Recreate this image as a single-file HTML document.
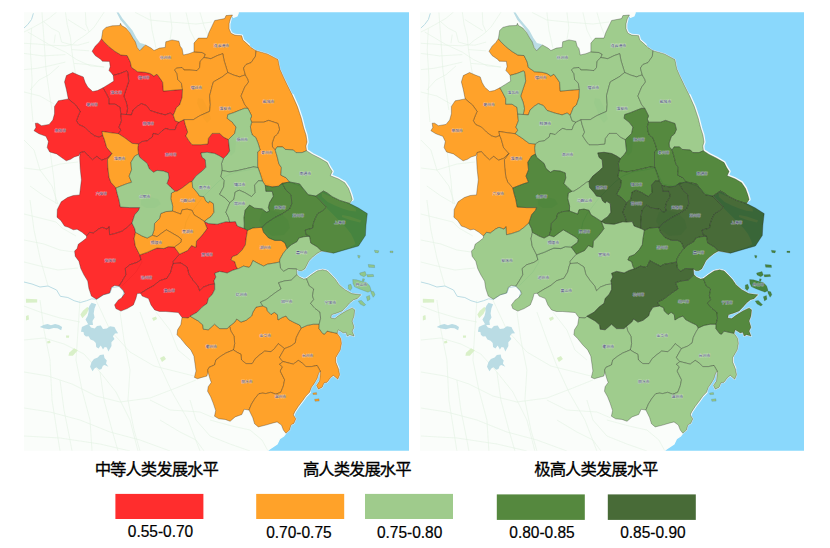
<!DOCTYPE html><html><head><meta charset="utf-8"><title>HDI map</title><style>html,body{margin:0;padding:0;background:#fff}body{width:830px;height:548px;position:relative;overflow:hidden;font-family:"Liberation Sans",sans-serif}</style></head><body><svg width="830" height="548" viewBox="0 0 830 548" style="position:absolute;left:0;top:0"><defs><path id="cXZ" d="M101.5,38.7 103.4,41.2 108.4,46.2 114.7,51.2 120.9,55 127.2,55.6 130.3,62 131.4,67.3 137.6,71.7 145.1,72.3 150.2,73.5 153.9,76.1 157,74.2 160.2,78.6 162.7,82.3 163.3,91.1 170.2,90.5 177.7,89.8 182.5,89.5 181.4,83.2 177.7,79.4 177.1,73.8 174.6,70 176.4,68.1 182.1,67.5 184,70 189.6,70 197.1,70.6 199.6,67.5 200.2,61.2 204,57.5 205.3,54.3 202.1,52.5 194,51.8 189,53.7 183.3,55 182.1,48.7 180.2,46.2 178.9,41.2 172,39.9 165.8,41.8 165.2,47.4 159.5,48.1 154,50.5 151,48 145.4,44.9 139.7,50.8 137.2,47.4 135.3,41.8 132.8,38.1 129.7,32.4 125.9,28 121.5,25.5 120.5,23.3 119.7,25.5 112.2,25.8 105.9,27.4 102.8,30.5Z"/><path id="cLYG" d="M194,51.8 202.1,52.5 205.3,54.3 204,57.5 210.9,58.7 217.2,55.6 222.8,53.7 224.1,60.6 227.2,70.6 227.8,72.5 233.5,75 239.7,76.9 242.9,75.6 245.4,75 243.5,68 246,64.5 251.1,62.6 255.4,56.4 256.1,50.7 251.1,47.6 248.6,45.1 242.9,40.1 241.7,35.7 234.8,35.1 231,33.2 229.1,28.8 229.1,23.8 230.4,18.8 232.5,15 226,15.6 224.7,18.6 214.7,20.5 209,32.4 207.1,38.1 198.4,38.1 194,43.1Z"/><path id="cSQ" d="M204,57.5 200.2,61.2 199.6,67.5 197.1,70.6 189.6,70 184,70 182.1,67.5 176.4,68.1 174.6,70 177.1,73.8 177.7,79.4 181.4,83.2 182.5,89.5 182.1,97.4 179.6,104.9 176.5,107.4 174.5,112.5 173.3,115.2 175.2,120.8 178.9,122.1 184,119.6 193.4,119.6 199.6,115.8 209.6,111.4 210.3,104.6 209.6,95.8 212.2,85.8 213.4,81.9 222.2,76.9 227.8,72.5 227.2,70.6 224.1,60.6 222.8,53.7 217.2,55.6 210.9,58.7Z"/><path id="cHA" d="M245.4,75 242.9,75.6 239.7,76.9 233.5,75 227.8,72.5 222.2,76.9 213.4,81.9 212.2,85.8 209.6,95.8 210.3,104.6 209.6,111.4 199.6,115.8 193.4,119.6 184,119.6 185.2,124.6 187.7,132.1 185.8,135.9 189,140.9 192.1,144.7 200.9,144.7 207.8,144 208.4,138.4 212.2,133.4 219.7,133.4 223.4,137.1 228.4,139.6 234.7,133.4 236,127.1 232.2,122.1 227.2,118.3 227.8,114.6 233.5,112.7 239.7,110.2 244.7,108.3 247.9,108.4 244.8,104.7 241,96 244.8,87 248.6,82 247.9,79.4Z"/><path id="cYC" d="M256.1,50.7 255.4,56.4 251.1,62.6 246,64.5 243.5,68 245.4,75 247.9,79.4 248.6,82 244.8,87 241,96 244.8,104.7 247.9,108.4 251.7,116 250.4,119 251.7,122.2 263.6,122.2 268.6,120.4 278,123.5 279.5,129.5 277.5,134 274.4,136.5 272.2,143 272.5,147 275.2,150 277.1,146.9 282.7,146.9 285.2,149.4 293.4,150 295.9,152.6 302.1,152.6 306.5,150.7 305.9,146 307.1,142 306,135 303.7,127.9 301.2,117.9 297.4,106.6 292.4,95.3 287.4,85.3 282.8,75.5 279.9,68.9 278,59.5 267.4,53.9Z"/><path id="cYZ" d="M247.9,108.4 244.7,108.3 239.7,110.2 233.5,112.7 227.8,114.6 227.2,118.3 232.2,122.1 236,127.1 234.7,133.4 228.4,139.6 229.1,146 229.7,151 227.2,154.8 223.4,158.5 221.5,163.5 222.1,170.5 229.5,171.9 237.1,170.7 245.2,168.8 253.4,166.9 258,167.5 257.6,166.3 257.6,158.8 257.6,151.9 260.1,150 258.3,143.8 255.8,137.5 252.3,135 251,131 250.4,126.6 251.7,122.2 250.4,119 251.7,116Z"/><path id="cTZ" d="M275.2,150 272.5,147 272.2,143 274.4,136.5 277.5,134 279.5,129.5 278,123.5 268.6,120.4 263.6,122.2 251.7,122.2 250.4,126.6 251,131 252.3,135 255.8,137.5 258.3,143.8 260.1,150 257.6,151.9 257.6,158.8 257.6,166.3 258,167.5 260.2,173.8 262.5,181 265.3,185.5 272.2,186.9 278.4,186.3 282.2,183.3 289.7,182 285.8,177.6 280.8,175.1 281.4,167.6 278.9,163.8 277.1,156.3Z"/><path id="cNT" d="M306.5,150.7 302.1,152.6 295.9,152.6 293.4,150 285.2,149.4 282.7,146.9 277.1,146.9 275.2,150 277.1,156.3 278.9,163.8 281.4,167.6 280.8,175.1 285.8,177.6 289.7,182 299.6,183.9 303.4,188.9 308.3,194.8 315.9,196.1 323.4,191 327.1,192.9 332.2,196.7 339.7,200.4 349.7,203.5 352.2,199.5 350.9,194.8 348.6,188.5 344.7,182.7 338.5,179 330.3,175.7 332.2,171.4 329.7,167.6 327.2,162.6 319.7,158.2 312.2,154.4Z"/><path id="cNJ" d="M222.1,170.5 221.5,163.5 223.4,158.5 219.7,156 214.7,153.5 207.1,152.3 200.9,152.9 202.1,157.3 205.3,159.8 205.9,167.3 202.1,171.1 195.9,176.1 192.1,181.3 192.7,187.4 197.1,192.4 199.6,196.1 204,196.7 205.9,201.1 208.4,203 209.6,201.1 213.4,203.6 214,212.3 210.9,216.7 207.1,219.2 204.3,221.4 208.4,223.5 217.2,224.2 225.9,221.7 229.7,222 228.4,217.3 225.9,212.3 227.8,207.5 229.8,202.8 224.6,197.5 219.6,194.3 223.6,187 224.3,180.5 220.9,176.8Z"/><path id="cZJ" d="M258,167.5 253.4,166.9 245.2,168.8 237.1,170.7 229.5,171.9 222.1,170.5 220.9,176.8 224.3,180.5 223.6,187 219.6,194.3 224.6,197.5 229.8,202.8 233.9,199.2 235.2,192 239.2,190.2 244.6,192.5 251.5,196.6 255.2,192.6 254.6,185.1 258.4,180.7 262.5,181 260.2,173.8Z"/><path id="cCZ" d="M265.3,185.5 262.5,181 258.4,180.7 254.6,185.1 255.2,192.6 251.5,196.6 244.6,192.5 239.2,190.2 235.2,192 233.9,199.2 229.8,202.8 227.8,207.5 225.9,212.3 228.4,217.3 229.7,222 235.4,221.6 237.3,226 244.2,228.5 244.3,224 244,217.6 245.2,210.1 249.6,205.1 254.6,208.2 262.1,208.9 266.5,212.3 269.5,211 268.4,207.6 269.6,202.6 273.4,196.3 272.2,191.3 265.9,191.3Z"/><path id="cWX" d="M282.2,183.3 278.4,186.3 272.2,186.9 265.3,185.5 265.9,191.3 272.2,191.3 273.4,196.3 269.6,202.6 268.4,207.6 269.5,211 266.5,212.3 262.1,208.9 254.6,208.2 249.6,205.1 245.2,210.1 244,217.6 244.3,224 244.2,228.5 247.5,230.3 252.9,227.9 262,227.3 267.1,222.7 274.7,217.6 282.2,213.9 289.7,209 291.8,203.8 291.2,195 285.9,190Z"/><path id="cSZ" d="M289.7,182 282.2,183.3 285.9,190 291.2,195 291.8,203.8 289.7,209 282.2,213.9 274.7,217.6 267.1,222.7 262,227.3 263.6,232.3 268.6,237.9 274.9,240.4 281.1,240.4 284.9,242.9 287,248.5 291.2,244.8 297,241.5 298.8,238 303.7,236.7 309.6,236.2 306,234.5 305.2,230 312.6,228.2 313.5,223 315.2,218.6 317.7,213.6 322.1,211.1 326.5,207.3 320.9,201.1 315.9,196.1 308.3,194.8 303.4,188.9 299.6,183.9Z"/><path id="cSH" d="M349.7,203.5 339.7,200.4 332.2,196.7 327.1,192.9 323.4,191 315.9,196.1 320.9,201.1 326.5,207.3 322.1,211.1 317.7,213.6 315.2,218.6 313.5,223 312.6,228.2 305.2,230 306,234.5 309.6,236.2 310.8,243 317.1,246.7 321.6,251 333.6,253.2 347.2,249.2 358.5,246 365.4,235.5 366,224.9 367.3,213.6 358.5,208Z"/><path id="cHUZ" d="M287,248.5 284.9,242.9 281.1,240.4 274.9,240.4 268.6,237.9 263.6,232.3 262,227.3 252.9,227.9 247.5,230.3 246.1,238.6 245.4,244.8 242.3,249.8 237.3,254.8 232.3,256.7 231,259.9 234.8,261.7 236,266.1 237.5,268.8 238.5,268.6 243.5,266.1 249.2,267.4 251.1,264.9 252.9,260.5 257.3,263 263.6,266.1 267.4,264.2 274.9,263 279.6,262 279.9,259.2 283,253.6Z"/><path id="cJX" d="M321.6,251 317.1,246.7 310.8,243 309.6,236.2 303.7,236.7 298.8,238 297,241.5 291.2,244.8 287,248.5 283,253.6 279.9,259.2 279.6,262 280.5,268.3 283.6,271.3 288.7,268.5 296.5,269 299,270.7 301.7,270.7 304.8,268.9 307.2,264.4 309,260.7 312.7,257.1 317.2,253.4Z"/><path id="cHZ" d="M279.6,262 274.9,263 267.4,264.2 263.6,266.1 257.3,263 252.9,260.5 251.1,264.9 249.2,267.4 243.5,266.1 238.5,268.6 237.5,268.8 232.2,270.5 227.2,273 219.7,271.4 214.7,273.3 215.9,277 214,280.8 214.7,284 214.7,289.6 212.2,294.6 208.4,298.3 207.1,303.4 202.1,307.1 197.1,312.3 190,316.2 198.3,321 202.7,324.8 203.3,329.2 208.3,329.8 214.6,324.2 219.6,328.6 227.1,328.6 229.6,326.2 234.8,322.1 236.7,319 241,322.1 246.1,320.3 251.7,315.9 252.9,312.1 256.1,307.1 262.7,305.9 260.5,302.1 266.1,299.6 271.1,295.8 276.1,292.1 281.1,288.9 278.6,282.7 284.9,280.8 291.2,280.2 297,274.6 296.5,269 288.7,268.5 283.6,271.3 280.5,268.3Z"/><path id="cSX" d="M297,274.6 291.2,280.2 284.9,280.8 278.6,282.7 281.1,288.9 276.1,292.1 271.1,295.8 266.1,299.6 260.5,302.1 262.7,305.9 266.7,307.7 267.4,310.9 271.1,314.6 274.2,312.3 277.4,314.6 278,320 282,317.5 286,316 288.7,319.6 293.7,322.3 299.6,325 301.4,328 307.1,325.4 313.4,324.2 319.2,324.2 320.6,318.4 320,312.1 315,308.4 310.6,303.4 313.7,299.6 312.5,295.8 313.7,288.9 309.3,285.8 306.5,278.6 303.6,279 299.9,277.3Z"/><path id="cNB" d="M306.5,278.6 309.3,285.8 313.7,288.9 312.5,295.8 313.7,299.6 310.6,303.4 315,308.4 320,312.1 320.6,318.4 319.2,324.2 319,328.6 322.8,333.6 324.6,334.2 327.1,331.1 332.2,332.3 337.2,333.3 338.4,329.8 343.4,333 345.9,332.3 347.2,336.1 349.7,334.8 354.1,336.1 352.2,331.1 354.1,327.3 352.2,321.1 354.1,316.1 354.7,309.8 352.2,307.9 345.9,311 339.7,314.8 334.7,318.6 330.9,317.9 331.5,314.8 337.2,312.9 342.2,311 345.9,307.3 349.7,302.9 353.5,299.8 357.2,298.7 361,294.7 351.9,293.6 344.6,289.4 339.1,284.8 335.5,279.4 330.9,274.6 327.3,270.9 322.7,269.7 317.2,270.9 311.8,274.6Z"/><path id="cJH" d="M301.4,328 299.6,325 293.7,322.3 288.7,319.6 286,316 282,317.5 278,320 277.4,314.6 274.2,312.3 271.1,314.6 267.4,310.9 266.7,307.7 262.7,305.9 256.1,307.1 252.9,312.1 251.7,315.9 246.1,320.3 241,322.1 236.7,319 234.8,322.1 229.6,326.2 230.9,331.1 234,336.1 234.7,343.6 233.4,349.9 237.2,352.4 240.9,354.2 241.5,359.9 245.9,363.6 252.2,363.6 255.3,358.6 259.7,354.9 264.7,351.1 271,351.7 274.5,348.6 278.3,343.6 284.5,348.6 290.8,346.1 295.2,343 296.4,337.4 298.9,332.3Z"/><path id="cQZ" d="M229.6,326.2 227.1,328.6 219.6,328.6 214.6,324.2 208.3,329.8 203.3,329.2 202.7,324.8 198.3,321 190,316.2 188.3,318 182,317.5 180.8,324.8 177.6,329.8 177,334.8 180.8,338.6 185.8,344.8 190.8,349.9 193.9,356.1 195.2,364.9 196,371 194.4,377.4 197.5,378.7 201.9,377.4 206.9,376.1 208,372 207.7,370 209,367.4 214.6,364.9 215.9,359.9 220.9,356.1 225.9,353 233.4,349.9 234.7,343.6 234,336.1 230.9,331.1Z"/><path id="cLS" d="M233.4,349.9 225.9,353 220.9,356.1 215.9,359.9 214.6,364.9 209,367.4 207.7,370 208,372 210.1,379.3 211.3,382.4 208.2,386.8 207.6,391.2 210.7,396.8 213.2,403.1 215.7,410.6 214.5,416.2 218.8,418.8 225.1,419.4 230.1,421.3 235.1,416.9 241.8,414.5 244.2,409.3 249,410 251.5,404 255.2,398.1 258.9,393.7 262.7,393.1 265.8,393.6 270.8,392.3 275.8,394.2 280.8,392.3 283.3,386.1 284.6,379.8 282.1,374.8 280.2,371 282.5,366.8 279.5,364.3 283,361.5 281.5,360 279.5,357.4 284.5,348.6 278.3,343.6 274.5,348.6 271,351.7 264.7,351.1 259.7,354.9 255.3,358.6 252.2,363.6 245.9,363.6 241.5,359.9 240.9,354.2 237.2,352.4Z"/><path id="cTZZ" d="M337.2,333.3 332.2,332.3 327.1,331.1 324.6,334.2 322.8,333.6 319,328.6 319.2,324.2 313.4,324.2 307.1,325.4 301.4,328 298.9,332.3 296.4,337.4 295.2,343 290.8,346.1 284.5,348.6 279.5,357.4 281.5,360 283,361.5 288.3,362.9 293.3,364.1 298.3,360.4 302.1,362.9 305.9,366.6 311.5,366.6 317.1,365.4 320.5,371.5 319.6,381.1 316.5,385.4 318.4,389.2 322.2,387.3 324,382.9 327.2,382.3 330.3,377.9 333.4,375.4 337.8,379.2 339.7,374.8 338.4,368.5 335.9,362.3 335.9,357.4 340.3,350 341.5,343.6 340.9,338.6Z"/><path id="cWZ" d="M283,361.5 279.5,364.3 282.5,366.8 280.2,371 282.1,374.8 284.6,379.8 283.3,386.1 280.8,392.3 275.8,394.2 270.8,392.3 265.8,393.6 262.7,393.1 258.9,393.7 255.2,398.1 251.5,404 249,410 252.7,417.5 254.6,423.8 258.3,426.9 265.8,425.1 272.1,423.2 277.1,421.9 281.5,425.1 283.4,430.1 285.9,433.2 289.6,430.1 290.9,425.1 294,423.2 295.9,418.8 293.4,415 294.7,411.9 298.4,406.3 302.8,400.5 305.9,396.1 309.6,392.3 311.5,387.3 314.6,382.9 317.1,378.6 319,372.5 320.5,371.5 317.1,365.4 311.5,366.6 305.9,366.6 302.1,362.9 298.3,360.4 293.3,364.1 288.3,362.9Z"/><path id="cSUZ" d="M182.5,89.5 177.7,89.8 170.2,90.5 163.3,91.1 162.7,82.3 160.2,78.6 157,74.2 153.9,76.1 150.2,73.5 145.1,72.3 137.6,71.7 131.4,67.3 130.3,62 127.2,55.6 120.9,55 114.7,51.2 108.4,46.2 103.4,41.2 101.5,38.7 99,42.4 95.2,46.2 92.1,51.2 95.2,55.6 100.9,59.4 102.3,61.2 109.5,61.4 110.2,66.5 109,70.6 111.4,73 113.2,75.4 120.1,73.5 126.3,71 127.6,71.7 128.8,81.1 126.3,88.6 123.8,96.1 126.3,102.4 127.6,108.6 126.3,114.5 131.4,114.9 133.2,109.9 137.6,106.1 141.4,103.6 146.4,105.5 150.2,110.5 157.7,113 165.2,114.9 170.2,113 173.3,115.2 174.5,112.5 176.5,107.4 179.6,104.9 182.1,97.4Z"/><path id="cHB" d="M103,87.8 106.3,93.6 108.8,98.6 108.8,104.2 115.1,104.2 120.1,107.4 120.8,114.2 126.3,114.5 127.6,108.6 126.3,102.4 123.8,96.1 126.3,88.6 128.8,81.1 127.6,71.7 126.3,71 120.1,73.5 113.2,75.4 113.8,81.1 108.8,84.2Z"/><path id="cBZ" d="M102.8,135.5 102,131.4 110.9,132.8 118.4,133.7 120.9,130.2 119,127.1 121.5,120.8 120.8,114.2 120.1,107.4 115.1,104.2 108.8,104.2 108.8,98.6 106.3,93.6 103,87.8 97.5,90.5 92.7,91.5 87.7,87 85.2,82.5 83.3,76.9 78.3,75 72.7,72.5 66.4,75.6 64.5,81.9 66.4,89.5 68.3,98.9 75.8,105.2 80.2,111.4 78.3,115.8 76.4,120.8 78.9,124.6 84.6,127.1 89.6,132.1 94.6,135.9 99,137.1Z"/><path id="cFY" d="M112,153.5 106.7,147.6 104.2,138.8 102.8,135.5 99,137.1 94.6,135.9 89.6,132.1 84.6,127.1 78.9,124.6 76.4,120.8 78.3,115.8 80.2,111.4 75.8,105.2 68.3,98.9 58.3,100.8 54.5,106.4 54.5,113.8 52.8,120 49.1,124.4 41.5,125.7 37.8,123.2 35.3,123.2 35.9,127.6 34,130.7 39,133.8 45.9,136.3 48.4,141.4 47.2,147.6 49.7,152 56.6,153.9 61.6,157.6 66.2,160.8 70.6,159.3 74.1,157 79,155.5 80.3,152.5 84.6,151.6 88.3,156 92.7,159.8 96.7,156.4 101.7,160.2 106.7,158.3Z"/><path id="cBB" d="M178.9,122.1 175.2,120.8 173.3,115.2 170.2,113 165.2,114.9 157.7,113 150.2,110.5 146.4,105.5 141.4,103.6 137.6,106.1 133.2,109.9 131.4,114.9 126.3,114.5 120.8,114.2 121.5,120.8 119,127.1 120.9,130.2 118.4,133.7 124.7,137.8 132.2,143.4 138.5,144 142.2,141.5 147.2,140.9 152.3,137 153.3,133.4 158.3,134.6 162,130.9 165.8,128.4 169.5,129.6 175.2,129.6 176.4,125.9Z"/><path id="cHN" d="M138.5,154.1 137.8,148 138.5,144 132.2,143.4 124.7,137.8 118.4,133.7 110.9,132.8 102,131.4 102.8,135.5 104.2,138.8 106.7,147.6 112,153.5 107.5,159.5 107.8,167.3 109,177.3 110.9,182.3 115.9,188 122.2,185.5 127.2,183.6 131.6,182.3 129.1,176.1 131.6,169.8 130.9,162.3 134.7,156Z"/><path id="cCHZ" d="M184,119.6 178.9,122.1 176.4,125.9 175.2,129.6 169.5,129.6 165.8,128.4 162,130.9 158.3,134.6 153.3,133.4 152.3,137 147.2,140.9 142.2,141.5 138.5,144 137.8,148 138.5,154.1 139.7,157.3 147.2,163.5 149.1,168.6 153.5,172.3 157,170.4 163.3,171.1 168.3,172.9 168.9,178 167,183.6 170.8,187.4 175,191.3 177,191.2 182.1,188 189.6,182.3 192.1,181.3 195.9,176.1 202.1,171.1 205.9,167.3 205.3,159.8 202.1,157.3 200.9,152.9 207.1,152.3 214.7,153.5 219.7,156 223.4,158.5 227.2,154.8 229.7,151 229.1,146 228.4,139.6 223.4,137.1 219.7,133.4 212.2,133.4 208.4,138.4 207.8,144 200.9,144.7 192.1,144.7 189,140.9 185.8,135.9 187.7,132.1 185.2,124.6Z"/><path id="cLA" d="M115.9,188 110.9,182.3 109,177.3 107.8,167.3 107.5,159.5 112,153.5 106.7,158.3 101.7,160.2 96.7,156.4 92.7,159.8 88.3,156 84.6,151.6 80.3,152.5 79.6,157.3 80.2,168.6 81.4,179.8 80.2,189.9 79.6,194.9 73.3,195.5 67.5,197.5 61.2,201.8 57.3,209.5 57,217.3 60.8,220.4 64.5,226.1 68.3,227.3 73.3,229.8 77.1,229.2 82.1,232.3 86.5,236 89.6,232.3 93.4,233 98.4,229.2 102.1,227.3 107.1,229.2 109,226.7 109.6,234.8 114.7,233.6 122.2,231.1 127.2,227.3 132,223 134.7,214.8 138.5,210.4 139.7,207.6 129.7,207.6 120.3,207 119,199.9 117.2,193.6Z"/><path id="cHF" d="M135.5,232.3 142.2,236.1 147.2,238 152.3,235.3 154.1,229.8 154.5,223.5 159.5,218.5 160.8,213.5 165.8,211.6 172.5,211 172.7,206.1 170.8,198.6 171.4,193 175,191.3 170.8,187.4 167,183.6 168.9,178 168.3,172.9 163.3,171.1 157,170.4 153.5,172.3 149.1,168.6 147.2,163.5 139.7,157.3 138.5,154.1 134.7,156 130.9,162.3 131.6,169.8 129.1,176.1 131.6,182.3 127.2,183.6 122.2,185.5 115.9,188 117.2,193.6 119,199.9 120.3,207 129.7,207.6 139.7,207.6 138.5,210.4 134.7,214.8 132,223 134.7,228.6Z"/><path id="cMAS" d="M204.3,221.4 207.1,219.2 210.9,216.7 214,212.3 213.4,203.6 209.6,201.1 208.4,203 205.9,201.1 204,196.7 199.6,196.1 197.1,192.4 192.7,187.4 192.1,181.3 189.6,182.3 182.1,188 177,191.2 175,191.3 171.4,193 170.8,198.6 172.7,206.1 172.5,211 180.8,214.1 182.1,209.8 187.1,209.1 192.1,210.4 194,214.8 199,217.9Z"/><path id="cWH" d="M179.6,254.2 182.1,253 187.7,250.5 191.5,245.5 195.9,247.4 196.5,241.1 200.2,237.3 203.4,233.6 207.1,228.6 204.3,221.4 199,217.9 194,214.8 192.1,210.4 187.1,209.1 182.1,209.8 180.8,214.1 172.5,211 165.8,211.6 160.8,213.5 159.5,218.5 154.5,223.5 154.1,229.8 152.3,235.3 157,236.7 162,232.9 166.4,229.8 170.8,232.3 178.3,236.7 181.4,239.2 180.8,242.3 174.3,247 176.5,250Z"/><path id="cTL" d="M139.7,254.9 147.2,252.4 152,250.2 157,248 163.9,248.6 168.3,246.7 174.3,247 180.8,242.3 181.4,239.2 178.3,236.7 170.8,232.3 166.4,229.8 162,232.9 157,236.7 152.3,235.3 147.2,238 142.2,236.1 135.5,232.3 134.1,238.6 135.3,246.1Z"/><path id="cAQ" d="M139.7,254.9 135.3,246.1 134.1,238.6 135.5,232.3 134.7,228.6 132,223 127.2,227.3 122.2,231.1 114.7,233.6 109.6,234.8 109,226.7 107.1,229.2 102.1,227.3 98.4,229.2 93.4,233 89.6,232.3 86.5,236 86.5,238 82.7,241.1 78.3,244.2 77.1,248.6 74.6,251.1 75.2,256.2 78.9,261.2 80.8,268.5 83.9,274.8 87.7,281.1 88.9,288.6 91.4,296.1 96.5,299.2 103.4,294.8 109.6,293 111.5,287.3 114.6,285.4 119,286.1 122.2,281.1 125.9,274.8 125.3,268.5 129.7,264.8 137.2,262.3 141,259.8Z"/><path id="cCI" d="M173.3,263.5 173.3,261.1 176.5,257.5 179.6,254.2 176.5,250 174.3,247 168.3,246.7 163.9,248.6 157,248 152,250.2 147.2,252.4 139.7,254.9 141,259.8 137.2,262.3 129.7,264.8 125.3,268.5 125.9,274.8 122.2,281.1 119,286.1 123.4,290.5 124.7,293.6 121.5,298 118.4,299.9 114.6,304.9 115.9,308.6 120.9,311.1 127.2,308.6 133.4,304.9 135.9,298.6 137.2,293.6 140.5,293.3 147.2,289.2 154.1,285.4 159.5,280.8 167,278.3 170.8,272 172,267Z"/><path id="cXC" d="M247.5,230.3 244.2,228.5 237.3,226 235.4,221.6 229.7,222 225.9,221.7 217.2,224.2 208.4,223.5 204.3,221.4 207.1,228.6 203.4,233.6 200.2,237.3 196.5,241.1 195.9,247.4 191.5,245.5 187.7,250.5 182.1,253 179.6,254.2 176.5,257.5 173.3,261.1 173.3,263.5 180.8,263 187.1,267 189,274.5 193.4,280.8 197.7,285.8 199.6,290.8 203.4,287.1 209.6,284.6 214.7,284 214,280.8 215.9,277 214.7,273.3 219.7,271.4 227.2,273 232.2,270.5 237.5,268.8 236,266.1 234.8,261.7 231,259.9 232.3,256.7 237.3,254.8 242.3,249.8 245.4,244.8 246.1,238.6Z"/><path id="cHS" d="M182,317.5 188.3,318 190,316.2 197.1,312.3 202.1,307.1 207.1,303.4 208.4,298.3 212.2,294.6 214.7,289.6 214.7,284 209.6,284.6 203.4,287.1 199.6,290.8 197.7,285.8 193.4,280.8 189,274.5 187.1,267 180.8,263 173.3,263.5 172,267 170.8,272 167,278.3 159.5,280.8 154.1,285.4 147.2,289.2 140.5,293.3 142.2,296.1 148.5,298.6 151,304.9 154.7,309.9 159.5,311.5 165.8,311.5 172,312.1 178.3,312.5Z"/><path id="i0" d="M352.7,279.5 356.5,279.8 360.8,281 366.5,282.6 369.8,286 371.2,290.5 368,292.2 363.5,290.5 359,288.8 354.6,286.8 353,283.5Z"/><path id="i1" d="M348.4,284.9 350.9,284.3 352.1,288 350.3,290.5 348.4,288.6Z"/><path id="i2" d="M359.6,273.1 365.1,271.5 366.4,275 363.9,276.8 360.2,275Z"/><path id="i3" d="M362.7,278.7 364.5,278.9 363.9,281.2 362.4,280.9Z"/><path id="i4" d="M368.2,264.5 374.4,265.1 374.7,267.6 368.8,267.3Z"/><path id="i5" d="M367,274.7 373.2,274.4 373.8,276.5 367.6,276.9Z"/><path id="i6" d="M357.7,255.2 360.2,255.8 359.3,258.3 358.1,257.6Z"/><path id="i7" d="M374.4,250.2 378.8,250.8 378.1,252.9 375,252.4Z"/><path id="i8" d="M390,251 393,251 393,252.7 390,252.5Z"/><path id="i9" d="M370.7,291.1 373.8,291.7 375,294.8 373.2,297.3 371.3,293.6Z"/><path id="i10" d="M366.4,296.7 369.5,295.4 370.1,299.2 367.6,301Z"/><path id="i11" d="M358.3,301 361.4,300.4 365.7,304.7 363.9,306 360.2,304.1Z"/><path id="i12" d="M312.8,393 316.5,392.6 316.8,394.4 313,394.6Z"/><path id="i13" d="M314.6,399.2 319,398.8 319.2,401.1 315,401.3Z"/><g id="base"><rect x="20" y="10" width="394" height="444" fill="#fafdfa"/><g fill="none" stroke="#e3f1e2" stroke-width="0.6" stroke-linejoin="round"><path d="M24,32 31.5,28.3 42.8,22 49.1,18.3 56.6,12"/><path d="M24,43.3 36.5,44 49.1,45.2 65.4,45.8 71.6,44.8 77.9,45.2 89.2,42.1"/><path d="M27.8,32 36.5,37.1 49.1,44.6 65.4,52.1 76.6,59.6 90.4,65.9 104.2,67.1"/><path d="M65.4,12 67.2,24.5 70.4,37.1 71.6,49.6 73.5,62.1 76.6,80"/><path d="M31.5,28.3 30.3,49.6 31.5,68.4 32.1,80 31,100 33,122"/><path d="M24,53.4 42.8,55.9 65.4,54.6"/><path d="M44,22 51.6,28.3 59.1,32 61.6,42.1 71.6,44.8"/><path d="M85.4,12 86,24.5 89.2,32 84.2,35.8 76.6,40.8 72.2,44.8"/><path d="M104.2,12 94.2,27 89.2,32"/><path d="M67.9,19.5 77.9,25.8 86,30.8"/><path d="M55.3,34.6 54.1,43.3"/><path d="M24,69.6 36.5,68.4 49.1,65.9 65.4,62.1"/><path d="M59.1,65.9 49.1,74.7 39,80 30,90"/><path d="M71.6,49.6 89.2,50.8"/><path d="M74.1,63.4 89.2,64.6 104.2,67.1"/><path d="M42,12.3 44,40 46,70 50,98 52,110"/><path d="M24,92 40,96 54,104"/><path d="M150,12.3 152,30 156,48"/><path d="M170,12.3 172,28 170,40"/><path d="M186,12.3 190,30 196,42"/><path d="M135,12.3 150,20 170,22 196,24 212,22"/><path d="M200,12.3 204,26 208,36"/><path d="M24,140 34,150 40,170 52,186 58,204"/><path d="M24,168 40,170 60,164 78,162"/><path d="M30,186 44,196 58,204"/><path d="M24,214 40,218 56,222 62,228 76,236"/><path d="M24,240 44,244 60,250 74,252"/><path d="M30,200 34,230 40,258 48,286"/><path d="M24,262 40,266 58,270 78,268"/><path d="M50,150 54,180 56,204"/><path d="M24,306 40,312 60,318 80,322"/><path d="M24,340 44,338 64,344 84,354 100,372 116,392 130,420 138,451"/><path d="M40,300 44,330 50,360 52,400 60,451"/><path d="M24,372 48,376 72,384 96,396 120,402 150,398 176,388 196,380"/><path d="M24,408 50,412 80,420 110,432 140,440 170,451"/><path d="M80,300 78,330 76,360 82,390 90,420 92,451"/><path d="M120,312 124,340 130,370 128,400 134,430 140,451"/><path d="M96,300 110,330 130,352 154,366 178,372 194,376"/><path d="M140,312 150,340 160,366 172,392 188,420 200,451"/><path d="M156,312 170,330 178,350 190,360"/><path d="M24,436 60,438 100,444 130,451"/><path d="M190,400 196,420 210,436 230,444 250,451"/><path d="M210,420 232,426 250,430 262,440 268,451"/><path d="M150,400 170,410 200,412 214,418"/><path d="M60,380 64,410 70,440 72,451"/><path d="M100,372 104,400 112,430 118,451"/><path d="M160,420 180,432 196,440 204,451"/></g><g fill="#d9f0c8"><path d="M80.4,314.4 82.9,310.7 87.3,306.9 89.2,308.2 86.7,313.8 82.3,318.2Z"/><path d="M25.9,298.8 37.2,299.2 37.2,302.5 26,302.8Z"/><path d="M69.1,352.7 74.1,348.3 77.9,350.2 72.9,355.8 68.5,355.8Z"/><path d="M47,341.5 50,340.5 50.5,343 47.5,343.5Z"/><path d="M66,335.5 69.2,335.5 69,337.8 66.2,337.8Z"/><path d="M26,316 28.5,315 29,319.5 26,320.5Z"/><path d="M152,318 156,316.5 157,319 153.5,321Z"/><path d="M160,358 164,356 166,359 162,362Z"/></g><g fill="#badce4"><path d="M116.5,12.3 118.5,12.3 122.5,18.5 127.5,24.5 132.5,30.5 136.5,38 140,43 145,44.3 142.5,49.3 139.9,50.6 137.6,47.4 135.2,41.8 132.9,38 130,32 125.3,25.5 120.5,20Z"/><path d="M81.9,327.1 85,325.5 88.6,324.1 91,327.5 94.7,328.6 97,326 100.8,325.6 103,329 106.8,328.6 110,326.2 114.5,327.1 116,330 118.1,333.2 115,333.4 112.9,336.2 114.5,339 111.4,342.3 111.5,346 108.4,351.5 106.8,347.5 104.7,346.9 103,349.5 100.8,345.4 98.5,348.6 96.2,346.9 95.8,343 93.7,340.8 90.5,339.5 88.6,336.2 86,336.5 84,334.7 83.5,332 81,331.7Z"/><path d="M91.6,302.7 96.2,304.3 94.5,308.5 93.7,313.4 94.6,317.5 92.5,321 93,325 88.6,325 85.5,319.5 87.6,316 88.6,311.9 88.5,308 89.5,305.8Z"/><path d="M39.8,327.1 43.5,325 47.5,324.1 51,325.2 55.1,324.1 59,325 62.1,327.1 61.2,330.2 57.5,328.3 53.6,328 49,329.3 44.4,328.6Z"/><path d="M91.6,362.1 94,359 97.7,357.6 100,355 103.8,354.5 104.5,358 106.8,360.6 106,363.5 108.4,366.7 104.6,364.9 102.9,365.8 101.5,369 99.2,369.7 96.5,367.2 94.7,368.2 92.5,371.3 90.1,366.7Z"/></g><g fill="#d9ecee"><path d="M262,212 270,210 281,213 288,220 290,228 284,235 272,236 264,230 259,221Z"/><path d="M141,200 150,197 158,199 161,204 155,208 146,208 141,205Z"/><path d="M198,98 203,99 206,105 209,112 211,119 207,123 203,118 200,110 197,103Z"/><path d="M229,138 233,136 236,142 235,152 231,156 228,150Z"/></g><g fill="none" stroke="#badce4" stroke-width="1" stroke-linejoin="round"><path d="M24,282 32,284 40,287 48,286 56.6,290 60.3,296.3 67.9,297.5 74.1,300.7 80.4,302.5 86.7,300.7 91.7,298.8 96.7,299.4 103,295 110,293 112,287.5 119,286.5 124,292 122,298"/><path d="M122,286 128,280 136,272 142,262 140,256 146,252 154,249 164,248 172,246 180,240 184,232 186,222 190,214 196,206 202,198 210,190 218,182 226,176 236,172 248,170 258,168 262,176 266,184 276,186 288,182 300,186 310,194 320,198"/><path d="M33.4,13.3 31.5,19.5 27.8,24.5 24,28"/></g><path d="M238.5,12.3 237,16 233.5,17.3 232.5,15 230.4,18.8 229.1,23.8 229.1,28.8 231,33.2 234.8,35.1 241.7,35.7 242.9,40.1 248.6,45.1 251.1,47.6 256.1,50.7 267.4,53.9 278,59.5 279.9,68.9 282.8,75.5 287.4,85.3 292.4,95.3 297.4,106.6 301.2,117.9 303.7,127.9 306,135 307.1,142 305.9,146 306.5,150.7 312.2,154.4 319.7,158.2 327.2,162.6 329.7,167.6 332.2,171.4 330.3,175.7 338.5,179 344.7,182.7 348.6,188.5 350.9,194.8 352.2,199.5 349.7,203.5 339.7,200.4 332.2,196.7 327.1,192.9 323.4,191 315.9,196.1 320.9,201.1 326.5,207.3 322.1,211.1 317.7,213.6 315.2,218.6 313.5,223 312.6,228.2 305.2,230 306,234.5 309.6,236.2 310.8,243 317.1,246.7 321.6,251 317.2,253.4 312.7,257.1 309,260.7 307.2,264.4 304.8,268.9 301.7,270.7 299,270.7 296.5,269 297,274.6 299.9,277.3 303.6,279 306.5,278.6 311.8,274.6 317.2,270.9 322.7,269.7 327.3,270.9 330.9,274.6 335.5,279.4 339.1,284.8 344.6,289.4 351.9,293.6 361,294.7 357.2,298.7 353.5,299.8 349.7,302.9 345.9,307.3 342.2,311 337.2,312.9 331.5,314.8 330.9,317.9 334.7,318.6 339.7,314.8 345.9,311 352.2,307.9 354.7,309.8 354.1,316.1 352.2,321.1 354.1,327.3 352.2,331.1 354.1,336.1 349.7,334.8 347.2,336.1 345.9,332.3 343.4,333 338.4,329.8 337.2,333.3 340.9,338.6 341.5,343.6 340.3,350 335.9,357.4 335.9,362.3 338.4,368.5 339.7,374.8 337.8,379.2 333.4,375.4 330.3,377.9 327.2,382.3 324,382.9 322.2,387.3 318.4,389.2 316.5,385.4 319.6,381.1 320.5,371.5 319,372.5 317.1,378.6 314.6,382.9 311.5,387.3 309.6,392.3 305.9,396.1 302.8,400.5 298.4,406.3 294.7,411.9 293.4,415 295.9,418.8 294,423.2 290.9,425.1 289.6,430.1 285.9,433.2 283.4,436.3 279.6,438.8 277.1,443.9 273.4,446.4 269.6,448.9 267.7,451 267.7,460 420,460 420,5 238.5,5Z" fill="#8ad8fc" stroke="#fafdfa" stroke-width="1.3" stroke-linejoin="round"/><g fill="#fafdfa"><path d="M300,196 316,196.5 320.9,201.1 326.3,207.7 333.6,215 340.9,222.3 346.7,228.2 351.1,234 354,239.9 355.5,244.2 349.6,247.2 340.9,250 332.1,253 321.6,251.2 300,255Z"/><path d="M321.9,192.8 329.2,196.1 338,199.7 348.2,204.1 355.5,208.5 356.2,211.4 349.6,210.7 342.3,208.5 335,205.5 327.7,201.9 321.9,196.8Z"/><path d="M342.3,215 350,216.5 361.3,220.5 360,222.5 350,220 342,217Z"/></g><g fill="none" stroke="#fafdfa" stroke-linejoin="round" stroke-linecap="round"><path d="M292.4,95.3 297.4,106.6 301.2,117.9 303.7,127.9 306,135 307.1,142 305.9,146 306.5,150.7 312.2,154.4 319.7,158.2 327.2,162.6 329.7,167.6 332.2,171.4 330.3,175.7 338.5,179 344.7,182.7 348.6,188.5 350.9,194.8 352.2,199.5" stroke-width="3.2"/><path d="M299.9,277.3 303.6,279 306.5,278.6 311.8,274.6 317.2,270.9 322.7,269.7 327.3,270.9 330.9,274.6" stroke-width="2.0"/><path d="M330.9,274.6 335.5,279.4 339.1,284.8" stroke-width="1.4"/><path d="M230.4,18.8 229.1,23.8 229.1,28.8 231,33.2 234.8,35.1 241.7,35.7 242.9,40.1 248.6,45.1" stroke-width="2.6"/><path d="M309.6,392.3 305.9,396.1 302.8,400.5 298.4,406.3 294.7,411.9 293.4,415" stroke-width="2.4"/><path d="M335.9,357.4 335.9,362.3 338.4,368.5" stroke-width="2.2"/></g></g><g id="labs"><g fill="#3f4178" stroke="#fff" stroke-opacity="0.6" stroke-width="0.43" paint-order="stroke" stroke-linejoin="round" font-size="3.9" letter-spacing="-0.05" style="font-family:'Liberation Sans','Noto Sans CJK SC',sans-serif"><text x="159.9" y="58.5">徐州市</text><text x="213.8" y="46.7">连云港市</text><text x="190.7" y="89">宿迁市</text><text x="219.5" y="109.5">淮安市</text><text x="262.8" y="102.7">盐城市</text><text x="236.4" y="140.8">扬州市</text><text x="261.2" y="154">泰州市</text><text x="299.5" y="175.3">南通市</text><text x="198.8" y="188.8">南京市</text><text x="233.9" y="186.2">镇江市</text><text x="233.9" y="205.3">常州市</text><text x="274.3" y="208.7">无锡市</text><text x="292.5" y="216.9">苏州市</text><text x="333.9" y="224">上海市</text><text x="259.7" y="249.4">湖州市</text><text x="296" y="254.4">嘉兴市</text><text x="235.8" y="296">杭州市</text><text x="281" y="302.9">绍兴市</text><text x="324.5" y="304.3">宁波市</text><text x="355.6" y="286.3">舟山市</text><text x="259.6" y="336.5">金华市</text><text x="205.7" y="348.1">衢州市</text><text x="241.2" y="383.2">丽水市</text><text x="301.9" y="357.3">台州市</text><text x="274.7" y="398.4">温州市</text><text x="138.1" y="79.3">宿州市</text><text x="110.5" y="94">淮北市</text><text x="86.3" y="106">亳州市</text><text x="54.5" y="131.5">阜阳市</text><text x="142.7" y="125.4">蚌埠市</text><text x="113.9" y="160.2">淮南市</text><text x="165" y="156.4">滁州市</text><text x="95.7" y="194.8">六安市</text><text x="138.9" y="198.2">合肥市</text><text x="180" y="201.9">马鞍山市</text><text x="181.9" y="233.1">芜湖市</text><text x="150.6" y="243.7">铜陵市</text><text x="104.4" y="262.4">安庆市</text><text x="140.8" y="279.3">池州市</text><text x="201.3" y="256.3">宣城市</text><text x="163.7" y="292.2">黄山市</text></g></g><clipPath id="clipL"><rect x="24" y="12.3" width="385" height="438.5"/></clipPath><clipPath id="clipR"><rect x="420" y="12.3" width="384" height="438.5"/></clipPath></defs><g clip-path="url(#clipL)"><g transform="translate(0,0)"><use href="#base"/><g fill-opacity="0.87" stroke="#1c1c1c" stroke-opacity="0.5" stroke-width="0.6" stroke-linejoin="round"><g fill="#ff0e0e"><use href="#cSUZ"/><use href="#cHB"/><use href="#cBZ"/><use href="#cFY"/><use href="#cBB"/><use href="#cCHZ"/><use href="#cLA"/><use href="#cAQ"/><use href="#cCI"/><use href="#cXC"/><use href="#cHS"/></g><g fill="#ff940a"><use href="#cXZ"/><use href="#cLYG"/><use href="#cSQ"/><use href="#cHA"/><use href="#cYC"/><use href="#cTZ"/><use href="#cHN"/><use href="#cMAS"/><use href="#cWH"/><use href="#cTL"/><use href="#cHUZ"/><use href="#cJH"/><use href="#cQZ"/><use href="#cLS"/><use href="#cTZZ"/><use href="#cWZ"/></g><g fill="#91c47c"><use href="#cHF"/><use href="#cYZ"/><use href="#cNT"/><use href="#cNJ"/><use href="#cZJ"/><use href="#cCZ"/><use href="#cJX"/><use href="#cHZ"/><use href="#cSX"/><use href="#cNB"/></g><g fill="#3c7722"><use href="#cWX"/><use href="#cSZ"/><use href="#cSH"/></g><use href="#i0" fill="#91c47c" stroke-width="0.25"/><use href="#i1" fill="#91c47c" stroke-width="0.25"/><use href="#i2" fill="#91c47c" stroke-width="0.25"/><use href="#i3" fill="#91c47c" stroke-width="0.25"/><use href="#i4" fill="#91c47c" stroke-width="0.25"/><use href="#i5" fill="#91c47c" stroke-width="0.25"/><use href="#i6" fill="#91c47c" stroke-width="0.25"/><use href="#i7" fill="#91c47c" stroke-width="0.25"/><use href="#i8" fill="#91c47c" stroke-width="0.25"/><use href="#i9" fill="#91c47c" stroke-width="0.25"/><use href="#i10" fill="#91c47c" stroke-width="0.25"/><use href="#i11" fill="#91c47c" stroke-width="0.25"/><use href="#i12" fill="#ff940a" stroke-width="0.25"/><use href="#i13" fill="#ff940a" stroke-width="0.25"/></g><use href="#labs"/></g></g><g clip-path="url(#clipR)"><g transform="translate(396.9,0)"><use href="#base"/><g fill-opacity="0.87" stroke="#1c1c1c" stroke-opacity="0.5" stroke-width="0.6" stroke-linejoin="round"><g fill="#ff940a"><use href="#cSUZ"/><use href="#cBZ"/><use href="#cFY"/><use href="#cHN"/><use href="#cLA"/></g><g fill="#91c47c"><use href="#cHB"/><use href="#cBB"/><use href="#cCHZ"/><use href="#cAQ"/><use href="#cCI"/><use href="#cXC"/><use href="#cHS"/><use href="#cMAS"/><use href="#cTL"/><use href="#cXZ"/><use href="#cLYG"/><use href="#cSQ"/><use href="#cHA"/><use href="#cYC"/><use href="#cJH"/><use href="#cQZ"/><use href="#cLS"/><use href="#cTZZ"/><use href="#cWZ"/></g><g fill="#3c7722"><use href="#cHF"/><use href="#cWH"/><use href="#cYZ"/><use href="#cTZ"/><use href="#cNT"/><use href="#cZJ"/><use href="#cHUZ"/><use href="#cJX"/><use href="#cSX"/><use href="#cNB"/></g><g fill="#2d551a"><use href="#cNJ"/><use href="#cCZ"/><use href="#cWX"/><use href="#cSZ"/><use href="#cSH"/><use href="#cHZ"/></g><use href="#i0" fill="#3c7722" stroke-width="0.25"/><use href="#i1" fill="#3c7722" stroke-width="0.25"/><use href="#i2" fill="#3c7722" stroke-width="0.25"/><use href="#i3" fill="#3c7722" stroke-width="0.25"/><use href="#i4" fill="#3c7722" stroke-width="0.25"/><use href="#i5" fill="#3c7722" stroke-width="0.25"/><use href="#i6" fill="#3c7722" stroke-width="0.25"/><use href="#i7" fill="#3c7722" stroke-width="0.25"/><use href="#i8" fill="#3c7722" stroke-width="0.25"/><use href="#i9" fill="#3c7722" stroke-width="0.25"/><use href="#i10" fill="#3c7722" stroke-width="0.25"/><use href="#i11" fill="#3c7722" stroke-width="0.25"/><use href="#i12" fill="#91c47c" stroke-width="0.25"/><use href="#i13" fill="#91c47c" stroke-width="0.25"/></g><use href="#labs"/></g></g><g fill="#000" stroke="#000" stroke-width="0.3" font-size="16.4" letter-spacing="-1" style="font-family:'Liberation Sans','Noto Sans CJK SC',sans-serif"><text x="94.7" y="474.9">中等人类发展水平</text><text x="302.9" y="474.9">高人类发展水平</text><text x="534.3" y="474.9">极高人类发展水平</text></g><rect x="115.4" y="493.9" width="88" height="25.1" fill="#ff2d2d"/><rect x="256.2" y="493.9" width="88" height="25.1" fill="#ffa229"/><rect x="365" y="493.9" width="88" height="25.1" fill="#9fcb8c"/><rect x="496.8" y="494.4" width="88" height="25.5" fill="#55883e"/><rect x="607.8" y="494.4" width="88" height="25.5" fill="#486b37"/><g font-family="Liberation Sans, sans-serif" font-size="15.5" fill="#000" stroke="#000" stroke-width="0.2" style="font-family:'Liberation Sans',sans-serif"><text transform="translate(160.5,537.3) scale(1,1.04)" text-anchor="middle">0.55-0.70</text><text transform="translate(298.9,538.2) scale(1,1.04)" text-anchor="middle">0.70-0.75</text><text transform="translate(409.6,537.6) scale(1,1.04)" text-anchor="middle">0.75-0.80</text><text transform="translate(542,538.2) scale(1,1.04)" text-anchor="middle">0.80-0.85</text><text transform="translate(652.9,538.2) scale(1,1.04)" text-anchor="middle">0.85-0.90</text></g></svg></body></html>
